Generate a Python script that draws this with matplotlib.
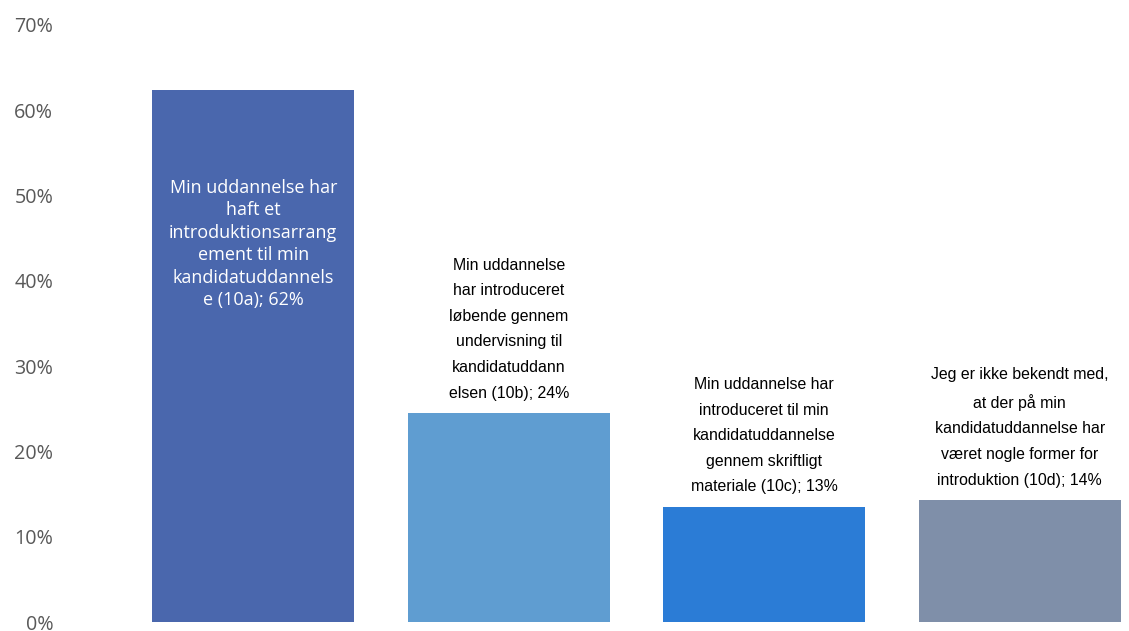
import matplotlib
matplotlib.use("Agg")
import matplotlib.pyplot as plt
from matplotlib.ticker import PercentFormatter

categories = ["10a", "10b", "10c", "10d"]
values = [0.624, 0.245, 0.135, 0.143]
labels = [
    "Min uddannelse har\nhaft et\nintroduktionsarrang\nement til min\nkandidatuddannels\ne (10a); 62%",
    "Min uddannelse\nhar introduceret\nløbende gennem\nundervisning til\nkandidatuddann\nelsen (10b); 24%",
    "Min uddannelse har\nintroduceret til min\nkandidatuddannelse\ngennem skriftligt\nmateriale (10c); 13%",
    "Jeg er ikke bekendt med,\nat der på min\nkandidatuddannelse har\nværet nogle former for\nintroduktion (10d); 14%",
]
colors = ["#4A67AD", "#5F9DD1", "#2B7CD6", "#7F8FA9"]
yticks = [0, 0.1, 0.2, 0.3, 0.4, 0.5, 0.6, 0.7]

W, H = 1129, 631
fig = plt.figure(figsize=(W / 100, H / 100), dpi=100)
left_px, right_px = 125.5, 1129
bottom_px, top_px = 9, 606
ax = fig.add_axes([left_px / W, bottom_px / H, (right_px - left_px) / W, (top_px - bottom_px) / H])

x = list(range(len(categories)))
ax.bar(x, values, width=0.79, color=colors)
ax.set_xlim(-0.5, -0.5 + (right_px - left_px) / 255.5)
ax.set_ylim(0, 0.7)
ax.set_yticks(yticks)
ax.yaxis.set_major_formatter(PercentFormatter(1.0, decimals=0))
ax.tick_params(axis="y", length=0, labelsize=14.2, labelcolor="#595959", pad=52)
for lab in ax.get_yticklabels():
    lab.set_fontfamily(["Open Sans", "DejaVu Sans"])
ax.set_xticks([])
for s in ax.spines.values():
    s.set_visible(False)

body = ["Liberation Sans", "DejaVu Sans"]
ax.text(x[0], 0.443, labels[0], ha="center", va="center", color="white",
        fontsize=13.0, family=["Open Sans", "DejaVu Sans"], linespacing=1.32)
for i in range(1, 4):
    ax.annotate(labels[i], (x[i], values[i]), xytext=(0, 9), textcoords="offset points",
                ha="center", va="bottom", color="black", fontsize=11.4,
                family=body, linespacing=1.88)

fig.savefig("out.png", dpi=100)
